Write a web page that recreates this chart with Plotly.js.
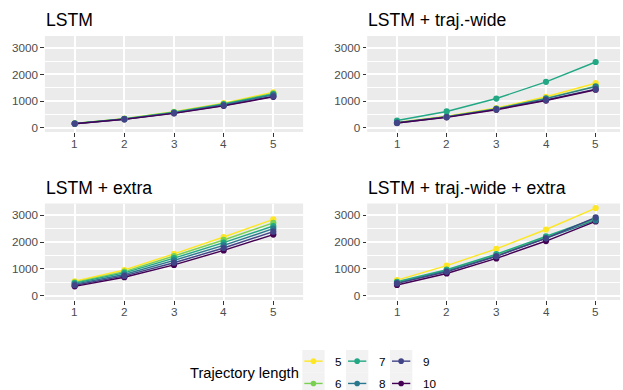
<!DOCTYPE html>
<html>
<head>
<meta charset="utf-8">
<script src="https://cdn.plot.ly/plotly-3.0.1.min.js"></script>
<style>html,body{margin:0;padding:0;background:#fff;}#chart{width:623px;height:390px;}</style>
</head>
<body>
<div id="chart"></div>
<script>
// ---- data ----
const steps = [1, 2, 3, 4, 5];
const trajLengths = ['5', '6', '7', '8', '9', '10'];
const panelTitles = ['LSTM', 'LSTM + traj.-wide', 'LSTM + extra', 'LSTM + traj.-wide + extra'];
const yTickVals = [0, 1000, 2000, 3000];
const legendTitle = 'Trajectory length';

// one row per trajectory length (5..10), one value per step
const lstm = [
  [160, 340, 600, 920, 1330],
  [160, 335, 590, 900, 1290],
  [158, 330, 575, 880, 1260],
  [155, 325, 562, 860, 1230],
  [152, 320, 550, 832, 1175],
  [150, 315, 540, 820, 1160]
];
const lstmTraj = [
  [200, 430, 740, 1160, 1670],
  [195, 415, 715, 1110, 1560],
  [270, 610, 1095, 1720, 2465],
  [190, 410, 705, 1090, 1540],
  [180, 400, 690, 1040, 1445],
  [175, 390, 675, 1020, 1425]
];
const lstmExtra = [
  [540, 960, 1560, 2190, 2850],
  [500, 900, 1480, 2080, 2720],
  [470, 850, 1400, 1980, 2600],
  [430, 790, 1320, 1880, 2500],
  [390, 740, 1230, 1780, 2390],
  [350, 690, 1150, 1690, 2280]
];
const lstmTrajExtra = [
  [580, 1120, 1750, 2470, 3270],
  [500, 950, 1520, 2180, 2860],
  [520, 970, 1550, 2210, 2880],
  [470, 920, 1480, 2150, 2810],
  [460, 890, 1470, 2140, 2920],
  [400, 830, 1390, 2040, 2770]
];
const panelData = [lstm, lstmTraj, lstmExtra, lstmTrajExtra];

// ---- style ----
const colors = ['#FDE725', '#7AD151', '#22A884', '#2A788E', '#414487', '#440154'];
const W = 623, H = 390;
const px = v => v / W;
const py = v => 1 - v / H;
const FONT = 'Liberation Sans, Arial, Helvetica, sans-serif';

// panel pixel boxes [left, right, top, bottom]
const boxes = [
  [44.9, 303.1, 36, 132],
  [367.2, 620, 36, 132],
  [44.9, 303.1, 203.5, 300],
  [367.2, 620, 203.5, 300]
];
const xRanges = [[0.4, 5.6], [0.4, 5.49], [0.4, 5.6], [0.4, 5.49]];
const yRange = [-160, 3440];

const traces = [];
const layout = {
  width: W, height: H,
  margin: {l: 0, r: 0, t: 0, b: 0},
  paper_bgcolor: '#ffffff',
  plot_bgcolor: '#EBEBEB',
  showlegend: false,
  font: {family: FONT, color: '#4D4D4D', size: 11.7},
  annotations: [],
  shapes: []
};

const markerOrder = [5, 0, 1, 2, 3, 4];

panelData.forEach((series, p) => {
  const sfx = p === 0 ? '' : String(p + 1);
  const xa = 'x' + sfx, ya = 'y' + sfx;
  const b = boxes[p];
  // lines first
  series.forEach((vals, i) => {
    traces.push({
      type: 'scatter', mode: 'lines', x: steps, y: vals,
      xaxis: xa, yaxis: ya, name: trajLengths[i],
      line: {color: colors[i], width: 1.4}, hoverinfo: 'skip'
    });
  });
  // points
  markerOrder.forEach(i => {
    traces.push({
      type: 'scatter', mode: 'markers', x: steps, y: series[i],
      xaxis: xa, yaxis: ya, name: trajLengths[i],
      marker: {color: colors[i], size: 6.2, line: {width: 0}}
    });
  });
  layout['xaxis' + sfx] = {
    domain: [px(b[0]), px(b[1])], anchor: ya, range: xRanges[p],
    tickvals: steps, showticklabels: false,
    showgrid: true, gridcolor: '#ffffff', gridwidth: 2,
    zeroline: false, showline: false,
    ticks: 'outside', ticklen: 3.5, tickwidth: 1, tickcolor: '#333333',
    fixedrange: true
  };
  // x tick labels placed through the x axis scale
  steps.forEach(s => {
    layout.annotations.push({
      xref: xa, yref: 'paper', x: s, y: py(b[3] + 11.7),
      xanchor: 'center', yanchor: 'middle', showarrow: false,
      text: String(s), font: {family: FONT, size: 11.7, color: '#4D4D4D'}
    });
  });
  layout['yaxis' + sfx] = {
    domain: [py(b[3]), py(b[2])], anchor: xa, range: yRange,
    tickvals: yTickVals, ticktext: yTickVals.map(String),
    showgrid: true, gridcolor: '#ffffff', gridwidth: 2,
    minor: {tickvals: [500, 1500, 2500], showgrid: true, gridcolor: '#ffffff', gridwidth: 1, ticks: ''},
    zeroline: false, showline: false,
    ticks: 'outside', ticklen: 3.5, tickwidth: 1, tickcolor: '#333333',
    tickfont: {family: FONT, size: 11.7, color: '#4D4D4D'}, fixedrange: true
  };
  // panel title
  layout.annotations.push({
    xref: 'paper', yref: 'paper', x: px(b[0] - 1), y: py(b[2] - 16),
    xanchor: 'left', yanchor: 'middle', showarrow: false,
    text: panelTitles[p], font: {family: FONT, size: 17.6, color: '#000000'}
  });
});

// ---- legend (drawn manually, ggplot style) ----
const keyCols = [302.3, 346, 390];
const keyTop = 350, keySize = 22.3;
trajLengths.forEach((lab, i) => {
  const c = Math.floor(i / 2), r = i % 2;
  const x0 = keyCols[c], y0 = keyTop + r * keySize;
  const cy = y0 + keySize / 2, cx = x0 + keySize / 2;
  layout.shapes.push({
    type: 'rect', xref: 'paper', yref: 'paper', layer: 'below',
    x0: px(x0), x1: px(x0 + keySize), y0: py(y0), y1: py(y0 + keySize),
    fillcolor: '#F2F2F2', line: {width: 0}
  });
  layout.shapes.push({
    type: 'line', xref: 'paper', yref: 'paper',
    x0: px(x0 + 2), x1: px(x0 + keySize - 2), y0: py(cy), y1: py(cy),
    line: {color: colors[i], width: 1.4}
  });
  layout.shapes.push({
    type: 'circle', xref: 'paper', yref: 'paper',
    x0: px(cx - 2.8), x1: px(cx + 2.8), y0: py(cy - 2.8), y1: py(cy + 2.8),
    fillcolor: colors[i], line: {width: 0}
  });
  layout.annotations.push({
    xref: 'paper', yref: 'paper', x: px(x0 + keySize + 8.5), y: py(cy),
    xanchor: 'left', yanchor: 'middle', showarrow: false,
    text: lab, font: {family: FONT, size: 11.7, color: '#000000'}
  });
});
layout.annotations.push({
  xref: 'paper', yref: 'paper', x: px(187.5), y: py(372.5),
  xanchor: 'left', yanchor: 'middle', showarrow: false,
  text: legendTitle, font: {family: FONT, size: 14.7, color: '#000000'}
});

Plotly.newPlot('chart', traces, layout, {staticPlot: true, displayModeBar: false});
</script>
</body>
</html>
